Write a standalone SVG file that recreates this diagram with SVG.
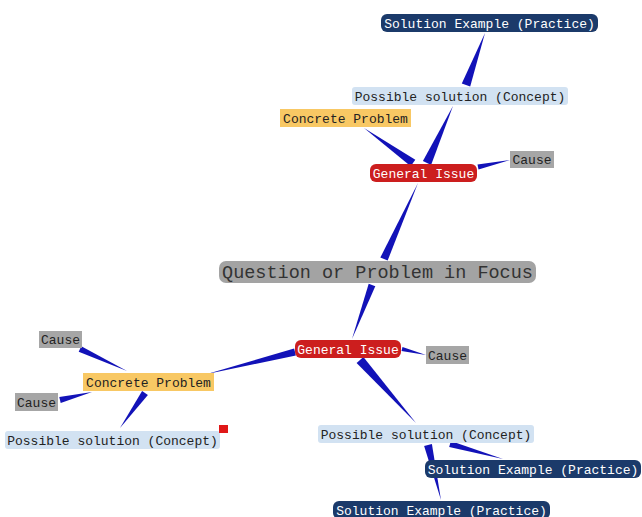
<svg xmlns="http://www.w3.org/2000/svg" width="642" height="517" viewBox="0 0 642 517">
<style>
text{font-family:"Liberation Mono","Courier New",monospace;font-size:13px;text-anchor:middle}
.navy rect{fill:#1b3a6a}.navy text{fill:#ffffff}
.blue rect{fill:#d2e2f2}.blue text{fill:#222}
.orange rect{fill:#f8c864}.orange text{fill:#222}
.red rect{fill:#cc1e1e}.red text{fill:#ffffff}
.gray rect{fill:#a6a6a6}.gray text{fill:#222}
.wedge{fill:#1212b8}
</style>
<rect width="642" height="517" fill="#ffffff"/>
<g id="connectors">
<polygon class="wedge" points="485,33 470.2,86.5 461.8,83.5"/>
<polygon class="wedge" points="453,106 431.1,164.9 422.9,161.1"/>
<polygon class="wedge" points="364,128 410.7,166.3 415.3,159.7"/>
<polygon class="wedge" points="510,160 478.5,169.4 477.5,164.6"/>
<polygon class="wedge" points="418,183 387.7,260.4 380.3,257.6"/>
<polygon class="wedge" points="352,339 375.3,286.2 368.7,283.8"/>
<polygon class="wedge" points="207,374 295.9,355.4 294.1,348.6"/>
<polygon class="wedge" points="426,355 401.5,351 402.5,347"/>
<polygon class="wedge" points="416,423 363.4,357 356.6,363"/>
<polygon class="wedge" points="127,371 81.3,346.3 78.7,351.7"/>
<polygon class="wedge" points="92,392 60.7,402.9 59.3,397.1"/>
<polygon class="wedge" points="120,428 147.9,395 142.1,391"/>
<polygon class="wedge" points="503,459 450.8,441.1 449.2,446.9"/>
<polygon class="wedge" points="441,500 431.9,444.1 424.1,445.9"/>
</g>
<g id="n1" class="navy"><rect x="381" y="14" width="217" height="18" rx="6"/><text x="489.5" y="27.5">Solution Example (Practice)</text></g>
<g id="n2" class="blue"><rect x="352" y="87" width="216" height="18" rx="3"/><text x="460" y="100.5">Possible solution (Concept)</text></g>
<g id="n3" class="orange"><rect x="280" y="109" width="131" height="18"/><text x="345.5" y="122.5">Concrete Problem</text></g>
<g id="n4" class="red"><rect x="370" y="164" width="107" height="18" rx="6"/><text x="423.5" y="177.5">General Issue</text></g>
<g id="n5" class="gray"><rect x="510" y="151" width="44" height="17"/><text x="532" y="164">Cause</text></g>
<g id="n6"><rect x="219" y="261" width="317" height="22" rx="7" fill="#a3a3a3"/><text x="377.5" y="278" style="font-size:18.5px" fill="#333">Question or Problem in Focus</text></g>
<g id="n7" class="red"><rect x="295" y="340" width="106" height="18" rx="6"/><text x="348" y="353.5">General Issue</text></g>
<g id="n8" class="gray"><rect x="426" y="346" width="43" height="18"/><text x="447.5" y="359.5">Cause</text></g>
<g id="n9" class="orange"><rect x="83" y="373" width="131" height="18"/><text x="148.5" y="386.5">Concrete Problem</text></g>
<g id="n10" class="gray"><rect x="39" y="331" width="43" height="17"/><text x="60.5" y="344">Cause</text></g>
<g id="n11" class="gray"><rect x="15" y="393" width="43" height="18"/><text x="36.5" y="406.5">Cause</text></g>
<g id="n12" class="blue"><rect x="5" y="431" width="215" height="18" rx="3"/><text x="112.5" y="444.5">Possible solution (Concept)</text><rect x="219" y="425" width="9" height="8" style="fill:#e01818"/></g>
<g id="n13" class="blue"><rect x="318" y="425" width="216" height="18" rx="3"/><text x="426" y="438.5">Possible solution (Concept)</text></g>
<g id="n14" class="navy"><rect x="425" y="460" width="216" height="18" rx="6"/><text x="533" y="473.5">Solution Example (Practice)</text></g>
<g id="n15" class="navy"><rect x="333" y="501" width="217" height="18" rx="6"/><text x="441.5" y="514.5">Solution Example (Practice)</text></g>
</svg>
